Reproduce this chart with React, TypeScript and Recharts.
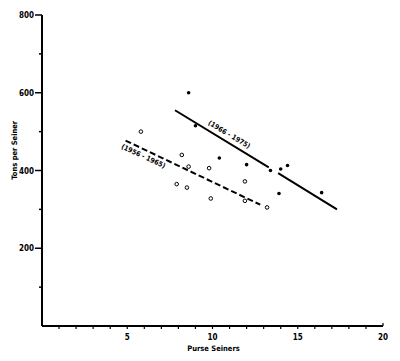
import { ComposedChart, Line, Scatter, XAxis, YAxis, Label } from 'recharts';

const xTicks = [1, 2, 3, 4, 5, 6, 7, 8, 9, 10, 11, 12, 13, 14, 15, 16, 17, 18, 19, 20];
const xLabelTicks = [5, 10, 15, 20];
const yTicks = [100, 200, 300, 400, 500, 600, 700, 800];
const yLabelTicks = [200, 400, 600, 800];

// 1956 - 1965 (open circles)
const early = [
  { x: 5.8, y: 500 },
  { x: 8.2, y: 440 },
  { x: 8.6, y: 410 },
  { x: 9.8, y: 406 },
  { x: 7.9, y: 365 },
  { x: 8.5, y: 356 },
  { x: 9.9, y: 328 },
  { x: 11.9, y: 372 },
  { x: 11.9, y: 322 },
  { x: 13.2, y: 305 },
];

// 1966 - 1975 (filled dots)
const late = [
  { x: 8.6, y: 600 },
  { x: 9.0, y: 515 },
  { x: 10.4, y: 432 },
  { x: 12.0, y: 415 },
  { x: 13.4, y: 400 },
  { x: 14.0, y: 404 },
  { x: 14.4, y: 413 },
  { x: 13.9, y: 341 },
  { x: 16.4, y: 343 },
];

const earlyFit = [
  { x: 4.9, y: 477 },
  { x: 12.8, y: 312 },
];

const lateFit = [
  { x: 7.8, y: 555 },
  { x: 13.3, y: 408 },
  { x: 13.6, y: null },
  { x: 13.85, y: 393 },
  { x: 17.3, y: 300 },
];

const fitLabels = [
  { x: 5.94, y: 436, text: '(1956 - 1965)' },
  { x: 10.97, y: 492, text: '(1966 - 1975)' },
];
const labelAngle: Record<string, number> = { '(1956 - 1965)': 25, '(1966 - 1975)': 31 };

const font = "'DejaVu Sans Condensed', 'Liberation Sans Narrow', 'DejaVu Sans', sans-serif";

function XTick({ x, y, payload }: any) {
  const v = payload.value;
  const last = v === 20;
  return <g>
    <line x1={x} x2={x} y1={last ? y - 3 : y} y2={last ? y : y + 3} stroke="#000" strokeWidth={1.2} />
    {xLabelTicks.includes(v) && <text x={x} y={y + 14} textAnchor="middle" fontSize={8} fontWeight="bold" fontFamily={font} fill="#000">{v}</text>}
  </g>;
}

function YTick({ x, y, payload }: any) {
  const v = payload.value;
  const major = yLabelTicks.includes(v) || v === 800;
  return <g>
    <line x1={x - (major ? 7 : 3)} x2={x} y1={y} y2={y} stroke="#000" strokeWidth={1.5} />
    {major && <text x={x - 8} y={y + 3} textAnchor="end" fontSize={8} fontWeight="bold" fontFamily={font} fill="#000">{v}</text>}
  </g>;
}

function YTitle({ viewBox }: any) {
  const cx = viewBox.x + 15;
  const cy = viewBox.y + viewBox.height * 0.435;
  return <text x={cx} y={cy} transform={`rotate(-90 ${cx} ${cy})`} textAnchor="middle" dominantBaseline="central" fontSize={7.5} fontWeight="bold" fontFamily={font} fill="#000">Tons per Seiner</text>;
}

function XTitle({ viewBox }: any) {
  const cx = viewBox.x + viewBox.width / 2 + 1;
  return <text x={cx} y={viewBox.y + 25} textAnchor="middle" fontSize={7.5} fontWeight="bold" fontFamily={font} fill="#000">Purse Seiners</text>;
}

export default function App() {
  return <div style={{ position: 'absolute', left: 0, top: 0, background: '#fff' }}>
    <ComposedChart width={400} height={361} margin={{ top: 15, right: 17, left: 0, bottom: 0 }}>
      <XAxis type="number" dataKey="x" domain={[0, 20]} ticks={xTicks} interval={0} allowDataOverflow
        height={35} tickSize={0} tickMargin={0} tickLine={false} tick={<XTick />}
        axisLine={{ stroke: '#000', strokeWidth: 2 }}>
        <Label content={<XTitle />} />
      </XAxis>
      <YAxis type="number" dataKey="y" domain={[0, 800]} ticks={yTicks} interval={0} allowDataOverflow
        width={42} tickSize={0} tickMargin={0} tickLine={false} tick={<YTick />}
        axisLine={{ stroke: '#000', strokeWidth: 2 }}>
        <Label content={<YTitle />} />
      </YAxis>
      <Line data={earlyFit} dataKey="y" type="linear" stroke="#000" strokeWidth={2} strokeDasharray="6 3" dot={false} isAnimationActive={false} />
      <Line data={lateFit} dataKey="y" type="linear" stroke="#000" strokeWidth={2} dot={false} isAnimationActive={false} />
      <Scatter data={early} isAnimationActive={false}
        shape={(p: any) => <circle cx={p.cx} cy={p.cy} r={1.8} fill="#fff" stroke="#000" strokeWidth={1} />} />
      <Scatter data={late} isAnimationActive={false}
        shape={(p: any) => <circle cx={p.cx} cy={p.cy} r={1.8} fill="#000" />} />
      <Scatter data={fitLabels} isAnimationActive={false}
        shape={(p: any) => <text x={p.cx} y={p.cy} transform={`rotate(${labelAngle[p.payload.text]} ${p.cx} ${p.cy})`}
          textAnchor="middle" dominantBaseline="central" fontSize={7} fontWeight="bold" fontFamily={font} fill="#000">{p.payload.text}</text>} />
    </ComposedChart>
  </div>;
}
